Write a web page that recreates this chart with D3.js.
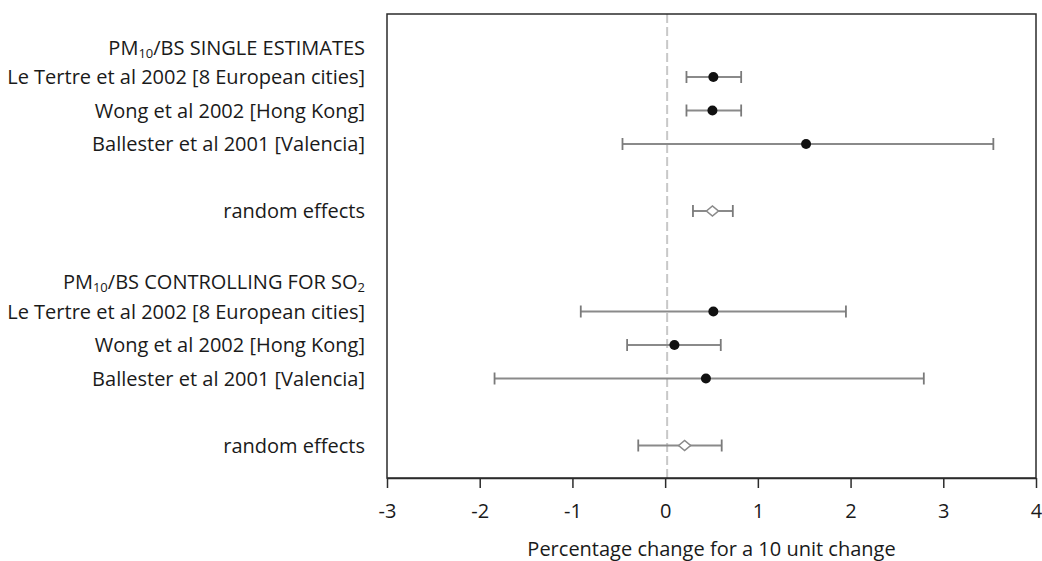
<!DOCTYPE html>
<html>
<head>
<meta charset="utf-8">
<script src="https://cdn.jsdelivr.net/npm/d3@7"></script>
<style>
  body { margin: 0; background: #fff; }
  svg { display: block; font-family: "Open Sans", sans-serif; }
  .lbl { font-size: 20px; fill: #1a1a1a; }
</style>
</head>
<body>
<div id="chart"></div>
<script>
// chart values
const studies = [
  "Le Tertre et al 2002 [8 European cities]",
  "Wong et al 2002 [Hong Kong]",
  "Ballester et al 2001 [Valencia]"
];
const singleEst  = [0.52, 0.51, 1.52];
const singleLow  = [0.23, 0.23, -0.46];
const singleHigh = [0.82, 0.82, 3.54];

const ctrlEst  = [0.52, 0.10, 0.44];
const ctrlLow  = [-0.91, -0.41, -1.84];
const ctrlHigh = [1.95, 0.60, 2.79];

const pooledEst  = [0.51, 0.21];
const pooledLow  = [0.30, -0.29];
const pooledHigh = [0.73, 0.61];

const xTicks = [-3, -2, -1, 0, 1, 2, 3, 4];
const xTitle = "Percentage change for a 10 unit change";

const width = 1042, height = 561;
const plot = { left: 387, right: 1036, top: 14, bottom: 478 };

const svg = d3.select("#chart").append("svg")
  .attr("width", width)
  .attr("height", height);

const x = d3.scaleLinear().domain([-3, 4]).range([plot.left, plot.right]);
// row index -> vertical position (0 = first header, 12 = last row)
const y = d3.scaleLinear().domain([1, 12]).range([77, 445.5]);

// rows: studies at 1-3, pooled at 5, second block 8-10, pooled at 12
const points = [];
studies.forEach((s, i) => {
  points.push({ row: 1 + i, est: singleEst[i], lo: singleLow[i], hi: singleHigh[i], pooled: false });
  points.push({ row: 8 + i, est: ctrlEst[i], lo: ctrlLow[i], hi: ctrlHigh[i], pooled: false });
});
points.push({ row: 5, est: pooledEst[0], lo: pooledLow[0], hi: pooledHigh[0], pooled: true });
points.push({ row: 12, est: pooledEst[1], lo: pooledLow[1], hi: pooledHigh[1], pooled: true });

// zero reference line
svg.append("line")
  .attr("x1", x(0) + 2).attr("x2", x(0) + 2)
  .attr("y1", plot.top).attr("y2", plot.bottom)
  .attr("stroke", "#c8c8c8")
  .attr("stroke-width", 2)
  .attr("stroke-dasharray", "9,4");

// frame
svg.append("rect")
  .attr("x", plot.left).attr("y", plot.top)
  .attr("width", plot.right - plot.left)
  .attr("height", plot.bottom - plot.top)
  .attr("fill", "none")
  .attr("stroke", "#2b2b2b")
  .attr("stroke-width", 1.5);

// axis
const axis = svg.append("g")
  .attr("transform", `translate(0,${plot.bottom})`)
  .call(d3.axisBottom(x).tickValues(xTicks).tickSize(10).tickSizeOuter(0).tickPadding(16));
axis.attr("font-size", 20).attr("font-family", "\"Open Sans\", sans-serif");
axis.select(".domain").attr("stroke", "#2b2b2b").attr("stroke-width", 1.5);
axis.selectAll(".tick line").attr("stroke", "#2b2b2b").attr("stroke-width", 1.5);
axis.selectAll(".tick text").attr("fill", "#1a1a1a").text(d => d < 0 ? "-" + Math.abs(d) : d);

svg.append("text")
  .attr("class", "lbl")
  .attr("x", (plot.left + plot.right) / 2)
  .attr("y", 556)
  .attr("text-anchor", "middle")
  .attr("font-size", 17.5)
  .text(xTitle);

// error bars
const bars = svg.append("g").selectAll("g")
  .data(points)
  .join("g")
  .attr("transform", d => `translate(0,${y(d.row)})`);

bars.append("line")
  .attr("x1", d => x(d.lo)).attr("x2", d => x(d.hi))
  .attr("stroke", "#8a8a8a")
  .attr("stroke-width", 2);

bars.selectAll(".cap")
  .data(d => [d.lo, d.hi])
  .join("line")
  .attr("class", "cap")
  .attr("x1", d => x(d)).attr("x2", d => x(d))
  .attr("y1", -6).attr("y2", 6)
  .attr("stroke", "#7a7a7a")
  .attr("stroke-width", 1.8);

bars.filter(d => !d.pooled).append("circle")
  .attr("cx", d => x(d.est))
  .attr("r", 5)
  .attr("fill", "#111");

bars.filter(d => d.pooled).append("path")
  .attr("d", d => {
    const cx = x(d.est);
    return `M${cx - 6},0L${cx},-5L${cx + 6},0L${cx},5Z`;
  })
  .attr("fill", "#fff")
  .attr("stroke", "#8a8a8a")
  .attr("stroke-width", 1.6);

// row labels
const labelX = 365;
const labels = svg.append("g").attr("class", "lbl").attr("text-anchor", "end");

function header(row, parts) {
  const t = labels.append("text")
    .attr("x", labelX)
    .attr("y", y(row) + 4)
    .attr("dy", "0.35em");
  parts.forEach(p => {
    const s = t.append("tspan").text(p[0]);
    if (p[1]) s.attr("font-size", 13).attr("dy", 3);
    else if (s.node().previousSibling) s.attr("dy", -3);
  });
}

header(0, [["PM"], ["10", true], ["/BS SINGLE ESTIMATES"]]);
header(7, [["PM"], ["10", true], ["/BS CONTROLLING FOR SO"], ["2", true]]);

studies.forEach((s, i) => {
  labels.append("text").attr("x", labelX).attr("y", y(1 + i)).attr("dy", "0.35em").text(s);
  labels.append("text").attr("x", labelX).attr("y", y(8 + i)).attr("dy", "0.35em").text(s);
});
[5, 12].forEach(r => {
  labels.append("text").attr("x", labelX).attr("y", y(r)).attr("dy", "0.35em").text("random effects");
});
</script>
</body>
</html>
